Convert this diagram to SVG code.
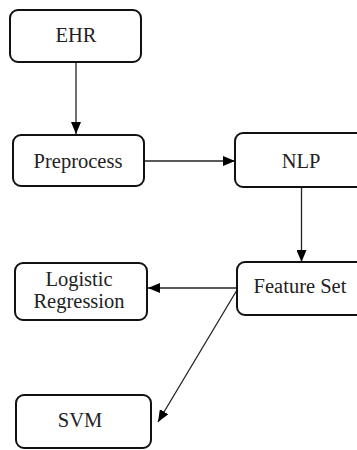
<svg xmlns="http://www.w3.org/2000/svg" width="357" height="450" viewBox="0 0 357 450">
<style>
.box{fill:#fff;stroke:#111;stroke-width:2}
.lbl{font-size:20.5px;fill:#222;text-anchor:middle}
.edge{stroke:#222;stroke-width:1.3;fill:none}
</style>
<defs>
<marker id="ah" viewBox="0 0 12 10" refX="12" refY="5" markerWidth="12" markerHeight="10" markerUnits="userSpaceOnUse" orient="auto">
<path d="M0,0 L12,5 L0,10 Z" fill="#000"/>
</marker>
</defs>
<rect width="357" height="450" fill="#fff"/>
<g id="connectors">
<line class="edge" x1="76" y1="62" x2="76" y2="134" marker-end="url(#ah)"/>
<line class="edge" x1="144" y1="161" x2="235" y2="161" marker-end="url(#ah)"/>
<line class="edge" x1="301.5" y1="187" x2="301.5" y2="262" marker-end="url(#ah)"/>
<line class="edge" x1="237" y1="288" x2="148" y2="288" marker-end="url(#ah)"/>
<line class="edge" x1="237" y1="290" x2="158" y2="422" marker-end="url(#ah)"/>
</g>
<g font-family="'Liberation Serif', 'Times New Roman', serif">
<g id="ehr"><rect class="box" x="10" y="10" width="131" height="52" rx="8"/><text class="lbl" x="76" y="42">EHR</text></g>
<g id="preprocess"><rect class="box" x="13" y="135" width="131" height="51" rx="8"/><text class="lbl" x="78" y="167.5">Preprocess</text></g>
<g id="nlp"><rect class="box" x="235" y="133" width="132" height="54" rx="8"/><text class="lbl" x="301" y="168">NLP</text></g>
<g id="featureset"><rect class="box" x="237" y="262" width="132" height="53" rx="8"/><text class="lbl" x="300" y="293">Feature Set</text></g>
<g id="logreg"><rect class="box" x="15" y="263" width="132" height="57" rx="8"/><text class="lbl" x="79" y="286">Logistic</text><text class="lbl" x="79" y="308">Regression</text></g>
<g id="svm"><rect class="box" x="16" y="395" width="135" height="53" rx="8"/><text class="lbl" x="80" y="427">SVM</text></g>
</g>
</svg>
